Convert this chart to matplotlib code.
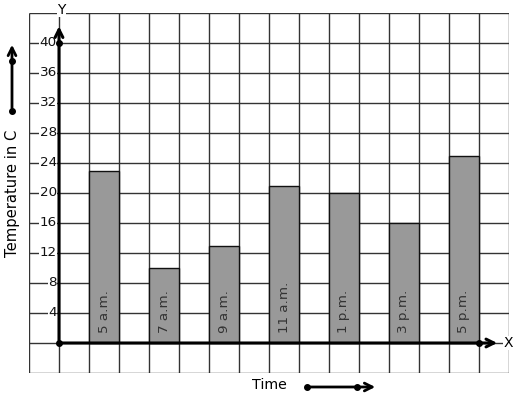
import matplotlib
matplotlib.use("Agg")
import matplotlib.pyplot as plt

times = ["5 a.m.", "7 a.m.", "9 a.m.", "11 a.m.", "1 p.m.", "3 p.m.", "5 p.m."]
temps = [23, 10, 13, 21, 20, 16, 25]
yticks = [4, 8, 12, 16, 20, 24, 28, 32, 36, 40]

W, H = 517, 399
fig = plt.figure(figsize=(W / 100, H / 100), dpi=100)
ax = fig.add_axes([29 / W, (H - 373) / H, 480 / W, 360 / H])
ax.set_xlim(-1, 15)
ax.set_ylim(-4, 44)
ax.axis("off")

gc = "#333333"
for gx in range(-1, 16):
    ax.plot([gx, gx], [-4, 44], color=gc, lw=1.0, zorder=1, solid_capstyle="butt")
for gy in range(-4, 45, 4):
    ax.plot([-1, 15], [gy, gy], color=gc, lw=1.0, zorder=1, solid_capstyle="butt")

xs = [1.5 + 2 * i for i in range(len(times))]
ax.bar(xs, temps, width=1.0, color="#999999", edgecolor="#111111", lw=1.0, zorder=2)
for x, t in zip(xs, times):
    ax.text(x, 1.3, t, rotation=90, ha="center", va="bottom", fontsize=9.7,
            color="#333333", zorder=3)

for v in yticks:
    ax.text(-0.07, v, str(v), ha="right", va="center", fontsize=9.7, color="#111111",
            zorder=3, bbox=dict(facecolor="white", edgecolor="none", pad=0.3))

# axes
ax.annotate("", xy=(0, 42.6), xytext=(0, 0),
            arrowprops=dict(arrowstyle="->", lw=2.2, color="black", mutation_scale=14),
            zorder=4)
ax.annotate("", xy=(14.7, 0), xytext=(0, 0),
            arrowprops=dict(arrowstyle="->", lw=2.2, color="black", mutation_scale=14),
            zorder=4)
ax.plot([0, 0, 14], [40, 0, 0], "o", color="black", ms=4, zorder=5, clip_on=False)
ax.text(14.97, 0, "X", ha="center", va="center", fontsize=10, zorder=5,
        bbox=dict(facecolor="white", edgecolor="none", pad=0.2))
ax.text(0.07, 44.4, "Y", ha="center", va="center", fontsize=10, zorder=5, clip_on=False,
        bbox=dict(facecolor="white", edgecolor="none", pad=0.2))

# outside labels with arrows
fig.text(13 / W, 1 - 193 / H, "Temperature in C", rotation=90, ha="center", va="center",
         fontsize=10.6)
fig.text(269 / W, 1 - 385 / H, "Time", ha="center", va="center", fontsize=10.2)

ax.annotate("", xy=(12, H - 42), xytext=(12, H - 111), xycoords="figure pixels",
            textcoords="figure pixels",
            arrowprops=dict(arrowstyle="->", lw=2.0, color="black", mutation_scale=14))
ax.annotate("", xy=(378, H - 387), xytext=(307, H - 387), xycoords="figure pixels",
            textcoords="figure pixels",
            arrowprops=dict(arrowstyle="->", lw=2.0, color="black", mutation_scale=14))
fig.add_artist(plt.Line2D([12 / W, 12 / W], [1 - 111 / H, 1 - 61 / H], marker="o",
                          ls="none", color="black", ms=4))
fig.add_artist(plt.Line2D([307 / W, 357 / W], [1 - 387 / H, 1 - 387 / H], marker="o",
                          ls="none", color="black", ms=4))

fig.savefig("out.png", dpi=100, facecolor="white")
